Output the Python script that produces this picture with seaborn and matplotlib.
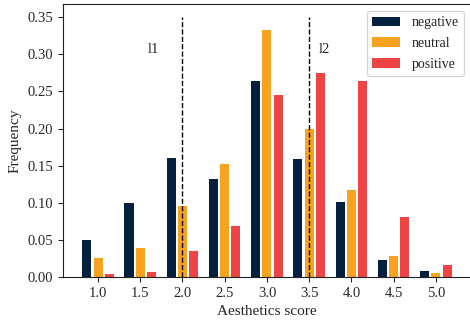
import matplotlib
matplotlib.use("Agg")
import matplotlib.pyplot as plt
import seaborn as sns
import pandas as pd

categories = ["1.0", "1.5", "2.0", "2.5", "3.0", "3.5", "4.0", "4.5", "5.0"]
negative = [0.050, 0.100, 0.160, 0.132, 0.264, 0.159, 0.101, 0.023, 0.008]
neutral = [0.026, 0.039, 0.096, 0.152, 0.333, 0.200, 0.117, 0.028, 0.005]
positive = [0.004, 0.007, 0.035, 0.069, 0.245, 0.275, 0.264, 0.081, 0.016]
hue_names = ["negative", "neutral", "positive"]
colors = ["#04203f", "#f8a31f", "#ee4444"]
thresholds = [("2.0", "l1"), ("3.5", "l2")]

rows = []
for name, vals in zip(hue_names, [negative, neutral, positive]):
    for c, v in zip(categories, vals):
        rows.append({"score": c, "freq": v, "sentiment": name})
df = pd.DataFrame(rows)

sns.set_style("ticks")
plt.rcParams["font.family"] = ["Liberation Serif", "DejaVu Serif"]

fig = plt.figure(figsize=(4.7, 3.25), dpi=100)
ax = fig.add_axes([0.134, 0.148, 0.868, 0.840])
sns.barplot(data=df, x="score", y="freq", hue="sentiment", order=categories,
            hue_order=hue_names, palette=colors, width=0.8, gap=0.2,
            saturation=1, linewidth=0, ax=ax)

for cat, lab in thresholds:
    xi = categories.index(cat)
    ax.vlines(xi, 0, 0.35, colors="black", linestyles="--", linewidth=1)
    ax.text(xi - 0.68 if lab == "l1" else xi + 0.36, 0.306, lab,
            ha="center", va="center", fontsize=10.5)

ax.set_xlim(-0.83, 8.83)
ax.set_ylim(0, 0.368)
ax.set_yticks([0, 0.05, 0.10, 0.15, 0.20, 0.25, 0.30, 0.35])
ax.set_yticklabels([f"{t:.2f}" for t in ax.get_yticks()])
ax.tick_params(labelsize=10.5)
ax.set_xlabel("Aesthetics score", fontsize=11)
ax.set_ylabel("Frequency", fontsize=11)
for s in ax.spines.values():
    s.set_visible(True)
    s.set_color("#222222")
ax.spines["right"].set_visible(False)
ax.legend(loc="upper right", fontsize=10, title=None, frameon=True,
          labelspacing=0.55)

fig.savefig("out.png", dpi=100)
